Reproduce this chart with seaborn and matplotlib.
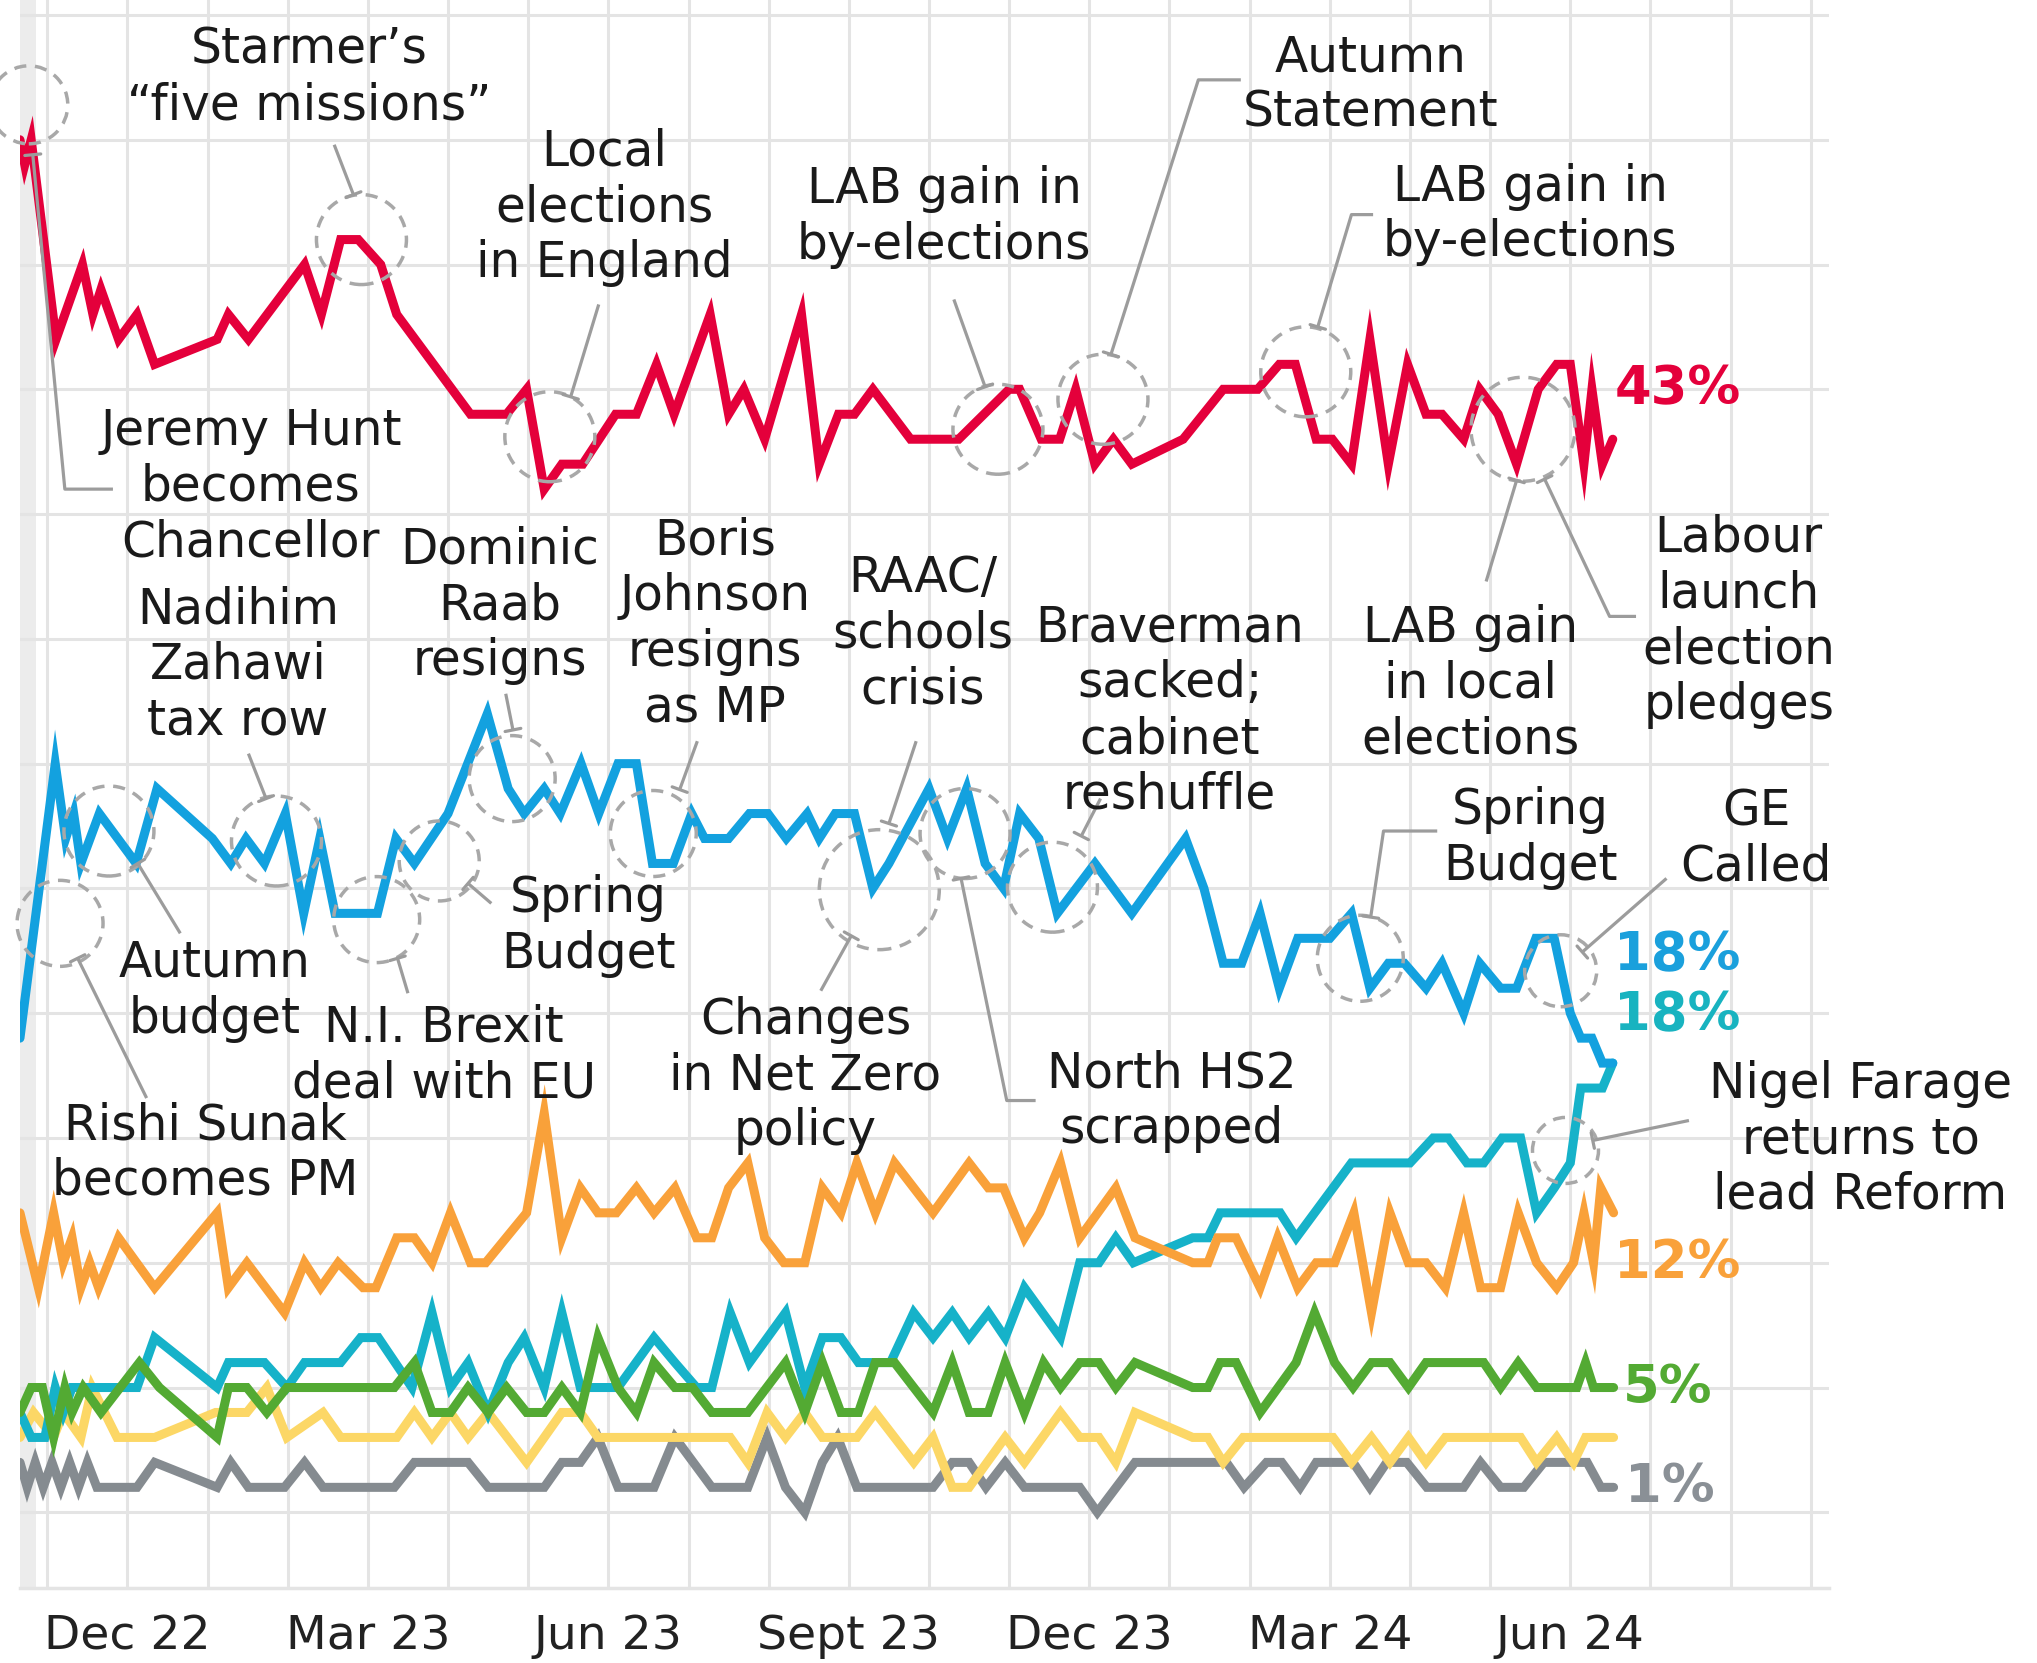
import numpy as np
import pandas as pd
import matplotlib
matplotlib.use("Agg")
import matplotlib.pyplot as plt
import seaborn as sns
from matplotlib.patches import Ellipse

# ---------------------------------------------------
# poll data (x = months counted from 1 Oct 2022, so 2.0 = 1 Dec 2022)
# ---------------------------------------------------
lab_month = [0.66, 0.72, 0.8, 1.11, 1.44, 1.57, 1.67, 1.89, 2.12, 2.34, 3.12, 3.26, 3.51,
             4.21, 4.42, 4.66, 4.88, 5.16, 5.36, 6.28, 6.73, 6.98, 7.2, 7.42, 7.68, 8.09,
             8.35, 8.6, 8.82, 9.27, 9.5, 9.69, 9.95, 10.41, 10.63, 10.87, 11.07, 11.3, 11.77,
             12.37, 13.0, 13.13, 13.4, 13.63, 13.83, 14.07, 14.3, 14.53, 15.17, 15.67, 16.1,
             16.37, 16.57, 16.83, 17.03, 17.27, 17.5, 17.73, 17.97, 18.2, 18.4, 18.67, 18.87,
             19.1, 19.33, 19.6, 19.83, 20.0, 20.17, 20.27, 20.4, 20.53]
lab_pct = [55, 54, 55, 47, 50, 48, 49, 47, 48, 46, 47, 48, 47, 50, 48, 51, 51, 50, 48, 44,
           44, 45, 41, 42, 42, 44, 44, 46, 44, 48, 44, 45, 43, 48, 42, 44, 44, 45, 43, 43,
           45, 45, 43, 43, 45, 42, 43, 42, 43, 45, 45, 46, 46, 43, 43, 42, 47, 42, 46, 44,
           44, 43, 45, 44, 42, 45, 46, 46, 42, 45, 42, 43]

con_month = [0.66, 1.1, 1.23, 1.33, 1.42, 1.65, 2.11, 2.37, 3.06, 3.29, 3.48, 3.71, 3.97,
             4.2, 4.4, 4.59, 5.12, 5.35, 5.58, 6.0, 6.49, 6.75, 6.95, 7.2, 7.4, 7.66, 7.88,
             8.12, 8.35, 8.55, 8.81, 9.04, 9.2, 9.5, 9.76, 9.99, 10.22, 10.48, 10.63, 10.83,
             11.07, 11.3, 11.5, 12.0, 12.23, 12.47, 12.7, 12.93, 13.13, 13.37, 13.6, 14.07,
             14.53, 15.2, 15.43, 15.67, 15.9, 16.13, 16.37, 16.6, 17.0, 17.27, 17.5, 17.73,
             17.93, 18.2, 18.4, 18.67, 18.87, 19.13, 19.33, 19.57, 19.8, 20.0, 20.13, 20.27,
             20.4, 20.53]
con_pct = [19, 30, 27, 28, 26, 28, 26, 29, 27, 26, 27, 26, 28, 24, 27, 24, 24, 27, 26, 28,
           32, 29, 28, 29, 28, 30, 28, 30, 30, 26, 26, 28, 27, 27, 28, 28, 27, 28, 27, 28,
           28, 25, 26, 29, 27, 29, 26, 25, 28, 27, 24, 26, 24, 27, 25, 22, 22, 24, 21, 23,
           23, 24, 21, 22, 22, 21, 22, 20, 22, 21, 21, 23, 23, 20, 19, 19, 18, 18]

ref_month = [0.66, 0.8, 0.97, 1.1, 1.2, 1.31, 1.53, 2.12, 2.34, 3.12, 3.26, 3.71, 3.99,
             4.21, 4.66, 4.91, 5.13, 5.55, 5.8, 6.03, 6.25, 6.5, 6.75, 6.95, 7.2, 7.42,
             7.65, 8.12, 8.57, 8.83, 9.1, 9.29, 9.52, 9.76, 10.21, 10.45, 10.67, 10.9,
             11.12, 11.52, 11.81, 12.05, 12.29, 12.5, 12.74, 12.95, 13.19, 13.64, 13.88,
             14.12, 14.33, 14.55, 15.29, 15.48, 15.63, 16.38, 16.58, 17.27, 18.0, 18.29,
             18.48, 18.71, 18.92, 19.15, 19.38, 19.58, 19.8, 20.0, 20.13, 20.4, 20.53]
ref_pct = [4, 3, 3, 5, 4, 5, 5, 5, 7, 5, 6, 6, 5, 6, 6, 7, 7, 5, 8, 5, 6, 4, 6, 7, 5, 8,
           5, 5, 7, 6, 5, 5, 8, 6, 8, 5, 7, 7, 6, 6, 8, 7, 8, 7, 8, 7, 9, 7, 10, 10, 11,
           10, 11, 11, 12, 12, 11, 14, 14, 15, 15, 14, 14, 15, 15, 12, 13, 14, 17, 17, 18]

ld_month = [0.66, 0.89, 1.08, 1.2, 1.31, 1.42, 1.53, 1.64, 1.89, 2.34, 3.12, 3.26, 3.49,
            3.96, 4.21, 4.41, 4.63, 4.94, 5.1, 5.36, 5.58, 5.8, 6.03, 6.28, 6.47, 6.98,
            7.2, 7.42, 7.65, 7.87, 8.1, 8.35, 8.57, 8.83, 9.1, 9.29, 9.5, 9.74, 9.95,
            10.19, 10.45, 10.67, 10.9, 11.1, 11.33, 11.57, 12.05, 12.5, 12.74, 12.93,
            13.19, 13.38, 13.64, 13.88, 14.33, 14.57, 15.29, 15.48, 15.6, 15.83, 16.13,
            16.35, 16.6, 16.83, 17.06, 17.3, 17.52, 17.75, 17.98, 18.2, 18.44, 18.67,
            18.88, 19.13, 19.35, 19.58, 19.83, 20.04, 20.17, 20.29, 20.38, 20.54]
ld_pct = [12, 9, 12, 10, 11, 9, 10, 9, 11, 9, 12, 9, 10, 8, 10, 9, 10, 9, 9, 11, 11, 10,
          12, 10, 10, 12, 16, 11, 13, 12, 12, 13, 12, 13, 11, 11, 13, 14, 11, 10, 10, 13,
          12, 14, 12, 14, 12, 14, 13, 13, 11, 12, 14, 11, 13, 11, 10, 10, 11, 11, 9, 11,
          9, 10, 10, 12, 8, 12, 10, 10, 9, 12, 9, 9, 12, 10, 9, 10, 12, 10, 13, 12]

grn_month = [0.66, 0.8, 0.94, 1.08, 1.22, 1.31, 1.45, 1.67, 2.15, 2.4, 3.12, 3.26, 3.49,
             3.74, 3.99, 5.33, 5.58, 5.8, 6.03, 6.25, 6.5, 6.73, 6.98, 7.2, 7.42, 7.65,
             7.87, 8.12, 8.35, 8.57, 8.83, 9.05, 9.29, 9.74, 10.21, 10.45, 10.67, 10.9,
             11.12, 11.33, 11.57, 12.05, 12.29, 12.5, 12.74, 12.95, 13.19, 13.43, 13.64,
             13.88, 14.12, 14.33, 14.57, 15.29, 15.48, 15.63, 15.83, 16.13, 16.58, 16.81,
             17.06, 17.29, 17.52, 17.75, 17.98, 18.2, 18.92, 19.13, 19.35, 19.58, 20.08,
             20.19, 20.29, 20.54]
grn_pct = [4, 5, 5, 3, 5, 4, 5, 4, 6, 5, 3, 5, 5, 4, 5, 5, 6, 4, 4, 5, 4, 5, 4, 4, 5, 4,
           7, 5, 4, 6, 5, 5, 4, 4, 6, 4, 6, 4, 4, 6, 6, 4, 6, 4, 4, 6, 4, 6, 5, 6, 6, 5,
           6, 5, 5, 6, 6, 4, 6, 8, 6, 5, 6, 6, 5, 6, 6, 5, 6, 5, 5, 6, 5, 5]

snp_month = [0.66, 0.83, 1.08, 1.2, 1.42, 1.56, 1.87, 2.34, 3.1, 3.49, 3.74, 3.99, 4.44,
             4.66, 5.36, 5.58, 5.8, 6.03, 6.25, 6.5, 6.98, 7.42, 7.65, 7.87, 9.52, 9.74,
             9.98, 10.21, 10.45, 10.67, 11.1, 11.33, 11.81, 12.05, 12.29, 12.5, 12.95,
             13.19, 13.64, 13.88, 14.12, 14.33, 14.57, 15.29, 15.48, 15.67, 15.92, 17.04,
             17.27, 17.52, 17.75, 17.98, 18.2, 18.44, 19.38, 19.58, 19.83, 20.04, 20.19,
             20.54]
snp_pct = [3, 4, 3, 4, 3, 5, 3, 3, 4, 4, 5, 3, 4, 3, 3, 4, 3, 4, 3, 4, 2, 4, 4, 3, 3, 2,
           4, 3, 4, 3, 3, 4, 2, 3, 1, 1, 3, 2, 4, 3, 3, 2, 4, 3, 3, 2, 3, 3, 2, 3, 2, 3,
           2, 3, 3, 2, 3, 2, 3, 3]

oth_month = [0.66, 0.75, 0.85, 0.95, 1.06, 1.17, 1.28, 1.39, 1.5, 1.62, 1.95, 2.12, 2.34,
             3.12, 3.29, 3.51, 3.96, 4.21, 4.44, 5.33, 5.58, 6.25, 6.5, 7.2, 7.42, 7.65,
             7.87, 8.12, 8.57, 8.83, 9.29, 9.74, 9.98, 10.21, 10.45, 10.67, 10.86, 11.1,
             12.05, 12.29, 12.5, 12.71, 12.95, 13.19, 13.88, 14.1, 14.57, 15.71, 15.93,
             16.21, 16.4, 16.63, 16.83, 17.29, 17.5, 17.71, 17.96, 18.21, 18.67, 18.88,
             19.13, 19.42, 19.67, 20.21, 20.38, 20.54]
oth_pct = [2, 1, 2, 1, 2, 1, 2, 1, 2, 1, 1, 1, 2, 1, 2, 1, 1, 2, 1, 1, 2, 2, 1, 1, 2, 2,
           3, 1, 1, 3, 1, 1, 3, 1, 0, 2, 3, 1, 1, 2, 2, 1, 2, 1, 1, 0, 2, 2, 1, 2, 2, 1,
           2, 2, 1, 2, 2, 1, 1, 2, 1, 1, 2, 2, 1, 1]

# drawing order: bottom first
PARTIES = ["Other", "SNP", "Reform", "Green", "Lib Dem", "Conservative", "Labour"]
SERIES = {
    "Other": (oth_month, oth_pct),
    "SNP": (snp_month, snp_pct),
    "Reform": (ref_month, ref_pct),
    "Green": (grn_month, grn_pct),
    "Lib Dem": (ld_month, ld_pct),
    "Conservative": (con_month, con_pct),
    "Labour": (lab_month, lab_pct),
}
PALETTE = {
    "Labour": "#e4003b",
    "Conservative": "#13a1df",
    "Reform": "#16b2c9",
    "Lib Dem": "#f9a13a",
    "Green": "#53aa33",
    "SNP": "#fcd766",
    "Other": "#858b90",
}

tick_months = [2, 5, 8, 11, 14, 17, 20]
tick_labels = ["Dec 22", "Mar 23", "Jun 23", "Sept 23", "Dec 23", "Mar 24", "Jun 24"]

# end-of-line labels: text, month, pct, colour
end_labels = [
    ("43%", 20.55, 45.0, "#e4003b"),
    ("18%", 20.55, 22.3, "#1aa0dc"),
    ("18%", 20.55, 19.9, "#18b3c0"),
    ("12%", 20.55, 10.0, "#f9a13a"),
    ("5%", 20.65, 5.0, "#53aa33"),
    ("1%", 20.68, 1.0, "#8a9096"),
]

# event notes: text, month, pct (centre of the text block)
notes = [
    ("Starmer\u2019s\n\u201cfive missions\u201d", 4.27, 57.5),
    ("Local\nelections\nin England", 7.95, 52.3),
    ("LAB gain in\nby-elections", 12.19, 51.9),
    ("Autumn\nStatement", 17.51, 57.2),
    ("LAB gain in\nby-elections", 19.5, 52.0),
    ("Jeremy Hunt\nbecomes\nChancellor", 3.54, 41.1),
    ("Labour\nlaunch\nelection\npledges", 22.1, 35.7),
    ("LAB gain\nin local\nelections", 18.76, 33.2),
    ("Dominic\nRaab\nresigns", 6.65, 36.35),
    ("Boris\nJohnson\nresigns\nas MP", 9.33, 35.6),
    ("RAAC/\nschools\ncrisis", 11.92, 35.2),
    ("Braverman\nsacked;\ncabinet\nreshuffle", 15.0, 32.1),
    ("Nadihim\nZahawi\ntax row", 3.38, 33.96),
    ("Autumn\nbudget", 3.09, 20.9),
    ("Rishi Sunak\nbecomes PM", 2.97, 14.4),
    ("Spring\nBudget", 7.75, 23.5),
    ("N.I. Brexit\ndeal with EU", 5.95, 18.3),
    ("Changes\nin Net Zero\npolicy", 10.46, 17.5),
    ("North HS2\nscrapped", 15.03, 16.46),
    ("Spring\nBudget", 19.5, 27.03),
    ("GE\nCalled", 22.32, 26.98),
    ("Nigel Farage\nreturns to\nlead Reform", 23.62, 14.95),
]

# leader lines (month, pct) from the text to the circled event
leaders = [
    [(4.58, 54.8), (4.82, 52.8)],
    [(7.88, 48.4), (7.53, 44.7)],
    [(12.31, 48.6), (12.7, 45.1)],
    [(15.89, 57.4), (15.36, 57.4), (14.27, 46.4)],
    [(17.54, 52.0), (17.27, 52.0), (16.85, 47.5)],
    [(1.82, 41.0), (1.22, 41.0), (0.82, 54.4)],
    [(20.82, 35.9), (20.49, 35.9), (19.68, 41.4)],
    [(18.95, 37.3), (19.33, 41.35)],
    [(6.72, 32.8), (6.81, 31.35)],
    [(9.11, 30.9), (8.89, 28.96)],
    [(11.84, 30.9), (11.5, 27.6)],
    [(14.14, 28.6), (13.9, 27.1)],
    [(3.51, 30.4), (3.73, 28.6)],
    [(2.66, 23.2), (2.13, 26.0)],
    [(2.24, 16.6), (1.38, 22.2)],
    [(6.54, 24.4), (6.25, 25.2)],
    [(5.5, 20.8), (5.37, 22.2)],
    [(10.65, 20.9), (11.03, 23.1)],
    [(13.33, 16.5), (12.97, 16.5), (12.4, 25.4)],
    [(18.34, 27.3), (17.67, 27.3), (17.51, 23.85)],
    [(21.2, 25.4), (20.15, 22.45)],
    [(21.48, 15.7), (20.28, 14.9)],
]

# dashed rings: month, pct, radius in pixels
rings = [
    (0.77, 56.4, 39), (4.92, 51.0, 45), (7.27, 43.1, 45), (12.86, 43.4, 45),
    (14.17, 44.6, 45), (16.7, 45.7, 45), (19.41, 43.4, 52), (6.8, 29.4, 43),
    (8.56, 27.2, 43), (11.38, 24.95, 60), (12.45, 27.2, 45), (13.54, 25.05, 45),
    (3.86, 26.9, 45), (1.77, 27.3, 45), (1.16, 23.6, 43), (5.89, 26.1, 40),
    (5.11, 23.75, 43), (17.38, 22.2, 43), (19.88, 21.7, 36), (19.94, 14.5, 33),
]

X_MIN, X_MAX = 0.655, 23.23
Y_MIN, Y_MAX = -3.02, 60.6
GRID = "#e4e4e4"
NOTE_GREY = "#9c9c9c"


def draw_leader(ax, pts):
    xs, ys = zip(*pts)
    ax.plot(xs, ys, color=NOTE_GREY, lw=2.3, zorder=5, clip_on=False,
            solid_capstyle="butt")
    # small perpendicular bar at the end, done in pixel space
    p0 = ax.transData.transform(pts[-2])
    p1 = ax.transData.transform(pts[-1])
    d = (p1 - p0) / np.hypot(*(p1 - p0))
    n = np.array([-d[1], d[0]]) * 8
    ends = ax.transData.inverted().transform([p1 - n, p1 + n])
    ax.plot(ends[:, 0], ends[:, 1], color=NOTE_GREY, lw=2.3, zorder=5, clip_on=False)


def main():
    sns.set_theme(style="white")
    plt.rcParams["font.family"] = ["DejaVu Sans"]

    frames = []
    for party in PARTIES:
        month, pct = SERIES[party]
        frames.append(pd.DataFrame({"month": month, "pct": pct, "party": party}))
    df = pd.concat(frames, ignore_index=True)

    fig = plt.figure(figsize=(20.37, 16.63), dpi=100)
    ax = fig.add_axes([0.0096, 0.0453, 0.8884, 0.9547])
    ax.set_xlim(X_MIN, X_MAX)
    ax.set_ylim(Y_MIN, Y_MAX)

    # background grid
    ax.axvspan(X_MIN, 0.86, color="#ececec", lw=0, zorder=0)
    for m in range(1, 24):
        ax.axvline(m, color=GRID, lw=2.2, zorder=0.5)
    for v in range(0, 61, 5):
        ax.axhline(v, color=GRID, lw=2.2, zorder=0.5)

    sns.lineplot(data=df, x="month", y="pct", hue="party", hue_order=PARTIES,
                 palette=PALETTE, estimator=None, sort=False, linewidth=6.5,
                 legend=False, ax=ax, zorder=3)
    for line in ax.get_lines():
        line.set_solid_joinstyle("miter")

    # axis styling
    for side in ["top", "right", "left"]:
        ax.spines[side].set_visible(False)
    ax.spines["bottom"].set_color(GRID)
    ax.spines["bottom"].set_linewidth(2.5)
    ax.set_yticks([])
    ax.set_xticks(tick_months)
    ax.set_xticklabels(tick_labels, fontsize=34, color="#222222")
    ax.set_xticks(range(1, 24), minor=True)
    ax.tick_params(axis="x", which="both", length=10, width=2.2, color=GRID,
                   direction="out", pad=9)
    ax.set_xlabel("")
    ax.set_ylabel("")
    ax.grid(False)

    # rings
    fig.canvas.draw()
    px_m = ax.transData.transform((1, 0))[0] - ax.transData.transform((0, 0))[0]
    px_v = ax.transData.transform((0, 1))[1] - ax.transData.transform((0, 0))[1]
    for m, v, r in rings:
        ax.add_patch(Ellipse((m, v), 2 * r / px_m, 2 * r / px_v, fill=False,
                             edgecolor="#a8a8a8", lw=2.5, linestyle=(0, (3.5, 2.5)),
                             zorder=4, clip_on=False))

    for pts in leaders:
        draw_leader(ax, pts)

    for text, m, v in notes:
        ax.text(m, v, text, ha="center", va="center", fontsize=35, color="#1a1a1a",
                linespacing=1.2, zorder=6, clip_on=False)

    for text, m, v, col in end_labels:
        ax.text(m, v, text, ha="left", va="center", fontsize=38, fontweight="bold",
                color=col, zorder=6, clip_on=False)

    fig.savefig("out.png", dpi=100, facecolor="white")
    plt.close(fig)


if __name__ == "__main__":
    main()
